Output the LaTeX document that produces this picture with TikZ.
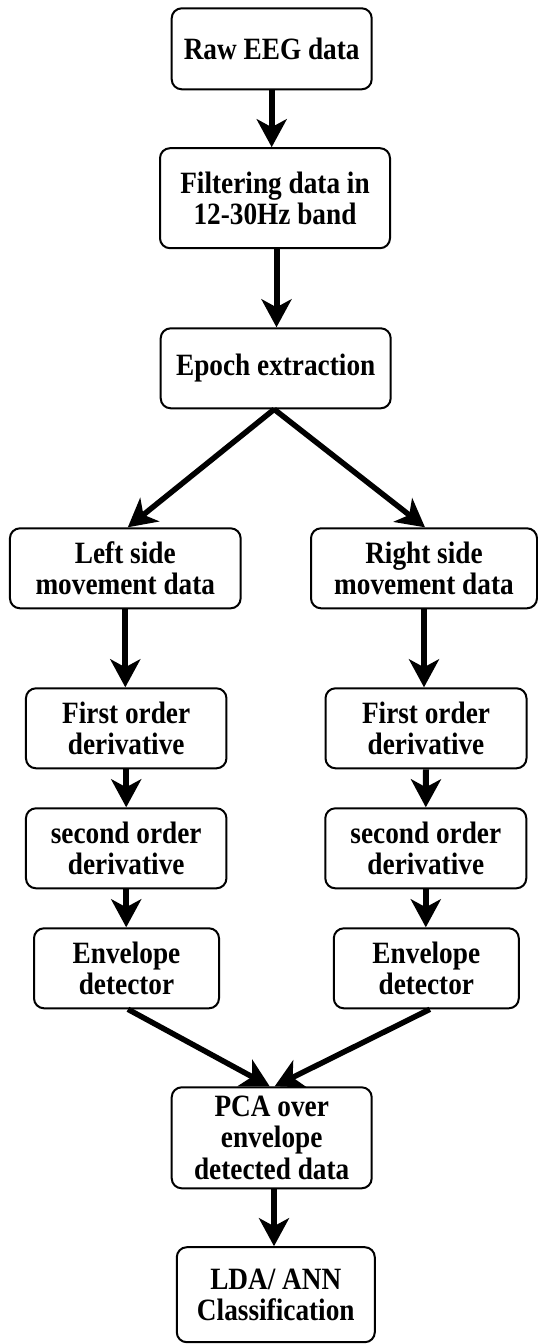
\documentclass[tikz,border=0pt]{standalone}
\usepackage{fontspec}
\setmainfont{Liberation Serif}[FakeStretch=0.88]
\usetikzlibrary{arrows.meta}
\tikzset{
  box/.style={draw, line width=2pt, rounded corners=10pt, align=center, inner sep=0pt,
    font=\fontsize{31}{31.5}\selectfont\bfseries},
  arr/.style={line width=6pt, -{Stealth[length=28pt,width=30pt,inset=8pt]}},
  darr/.style={line width=5.5pt, -{Stealth[length=28pt,width=30pt,inset=8pt]}},
}
\begin{document}
\begin{tikzpicture}[x=1pt,y=-1pt]
\useasboundingbox (0,0) rectangle (538,1344);
\node[box, minimum width=200pt, minimum height=81pt] (raw) at (271.7,48.8) {Raw EEG data};
\node[box, minimum width=230pt, minimum height=100pt] (filt) at (275,198.2) {Filtering data in\\12-30Hz band};
\node[box, minimum width=230pt, minimum height=80pt] (epoch) at (275.7,368.3) {Epoch extraction};
\node[box, minimum width=230.7pt, minimum height=80pt] (left) at (125.3,568.3) {Left side\\movement data};
\node[box, minimum width=226pt, minimum height=80pt] (right) at (424,568.3) {Right side\\movement data};
\node[box, minimum width=200.5pt, minimum height=80pt] (firstL) at (126.2,728.3) {First order\\derivative};
\node[box, minimum width=201pt, minimum height=80pt] (firstR) at (426,728.3) {First order\\derivative};
\node[box, minimum width=200.5pt, minimum height=80pt] (secondL) at (126.2,848.3) {second order\\derivative};
\node[box, minimum width=201pt, minimum height=80pt] (secondR) at (425.8,848.3) {second order\\derivative};
\node[box, minimum width=185pt, minimum height=80pt] (envL) at (126.5,968.3) {Envelope\\detector};
\node[box, minimum width=185pt, minimum height=80pt] (envR) at (426.3,968.3) {Envelope\\detector};
\node[box, minimum width=200pt, minimum height=101pt] (pca) at (271.7,1137.8) {PCA over\\envelope\\detected data};
\node[box, minimum width=198pt, minimum height=95pt] (lda) at (275.8,1294.7) {LDA/ ANN\\Classification};

\draw[arr] (raw.south) -- (raw.south |- filt.north);
\draw[arr] ([xshift=1.5pt]filt.south) -- ([xshift=1.5pt]filt.south |- epoch.north);
\draw[darr] ([xshift=-1.5pt]epoch.south) -- ([xshift=2.5pt]left.north);
\draw[darr] ([xshift=-1.5pt]epoch.south) -- ([xshift=1pt]right.north);
\draw[arr] (left.south) -- (left.south |- firstL.north);
\draw[arr] (right.south) -- (right.south |- firstR.north);
\draw[arr] (firstL.south) -- (secondL.north);
\draw[arr] (firstR.south) -- (secondR.north);
\draw[arr] (secondL.south) -- (secondL.south |- envL.north);
\draw[arr] (secondR.south) -- (secondR.south |- envR.north);
\draw[darr] ([xshift=1.5pt]envL.south) -- ([xshift=-2pt]pca.north);
\draw[darr] ([xshift=3.5pt]envR.south) -- ([xshift=3pt]pca.north);
\draw[arr] ([xshift=2.3pt]pca.south) -- ([xshift=2.3pt]pca.south |- lda.north);
\end{tikzpicture}
\end{document}
